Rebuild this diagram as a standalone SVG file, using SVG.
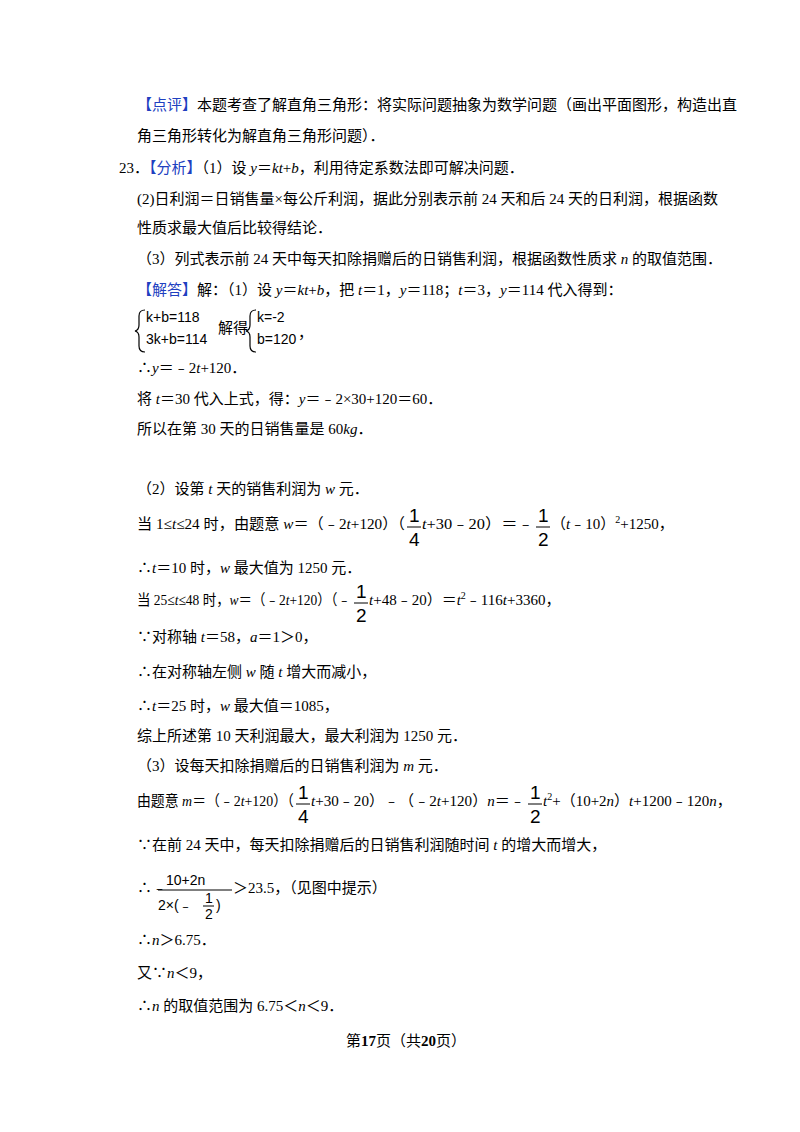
<svg xmlns="http://www.w3.org/2000/svg" width="800" height="1132" viewBox="0 0 800 1132">
<style>
text{font-family:"Liberation Serif","Noto Sans CJK SC",serif;font-size:15px;fill:#000}
.b{fill:#2040c0}
.i{font-style:italic}
.s{font-family:"Liberation Sans","Noto Sans CJK SC",sans-serif;font-size:14px}
.f{font-size:19px;font-family:"Liberation Sans",sans-serif}
line{stroke:#000;stroke-width:1}
</style>
<rect width="800" height="1132" fill="#fff"/>
<text x="137" y="110"><tspan class="b">【点评】</tspan>本题考查了解直角三角形：将实际问题抽象为数学问题（画出平面图形，构造出直</text>
<text x="137" y="141">角三角形转化为解直角三角形问题）．</text>
<text x="119" y="173">23．<tspan class="b">【分析】</tspan>（1）设 <tspan class="i">y</tspan>＝<tspan class="i">kt</tspan>+<tspan class="i">b</tspan>，利用待定系数法即可解决问题．</text>
<text x="137" y="204">(2)日利润＝日销售量×每公斤利润，据此分别表示前 24 天和后 24 天的日利润，根据函数</text>
<text x="137" y="233">性质求最大值后比较得结论．</text>
<text x="137" y="264">（3）列式表示前 24 天中每天扣除捐赠后的日销售利润，根据函数性质求 <tspan class="i">n</tspan> 的取值范围．</text>
<text x="137" y="295"><tspan class="b">【解答】</tspan>解：（1）设 <tspan class="i">y</tspan>＝<tspan class="i">kt</tspan>+<tspan class="i">b</tspan>，把 <tspan class="i">t</tspan>＝1，<tspan class="i">y</tspan>＝118；<tspan class="i">t</tspan>＝3，<tspan class="i">y</tspan>＝114 代入得到：</text>
<g id="sys">
<path d="M145,310 q-6,0 -6,6 v9 q0,5 -4,6 q4,1 4,6 v9 q0,6 6,6" fill="none" stroke="#000" stroke-width="1.2"/>
<text class="s" x="146" y="322">k+b=118</text>
<text class="s" x="146" y="344">3k+b=114</text>
<text x="218" y="333">解得</text>
<path d="M256,310 q-6,0 -6,6 v9 q0,5 -4,6 q4,1 4,6 v9 q0,6 6,6" fill="none" stroke="#000" stroke-width="1.2"/>
<text class="s" x="257" y="322">k=-2</text>
<text class="s" x="257" y="344">b=120</text>
<text x="298" y="338">，</text>
</g>
<text x="137" y="373">∴<tspan class="i">y</tspan>＝﹣2<tspan class="i">t</tspan>+120．</text>
<text x="137" y="404">将 <tspan class="i">t</tspan>＝30 代入上式，得：<tspan class="i">y</tspan>＝﹣2×30+120＝60．</text>
<text x="137" y="434">所以在第 30 天的日销售量是 60<tspan class="i">kg</tspan>．</text>
<text x="137" y="494">（2）设第 <tspan class="i">t</tspan> 天的销售利润为 <tspan class="i">w</tspan> 元．</text>
<text x="137" y="529" textLength="268" lengthAdjust="spacingAndGlyphs">当 1≤<tspan class="i">t</tspan>≤24 时，由题意 <tspan class="i">w</tspan>＝（﹣2<tspan class="i">t</tspan>+120）（</text>
<text class="f" x="409" y="522">1</text><line x1="407" y1="527" x2="421" y2="527"/><text class="f" x="409" y="546">4</text>
<text x="422" y="529" textLength="112" lengthAdjust="spacingAndGlyphs"><tspan class="i">t</tspan>+30﹣20）＝﹣</text>
<text class="f" x="538" y="522">1</text><line x1="536" y1="527" x2="550" y2="527"/><text class="f" x="538" y="546">2</text>
<text x="551" y="529">（<tspan class="i">t</tspan>﹣10）<tspan font-size="10" dy="-6">2</tspan><tspan dy="6">+1250，</tspan></text>
<text x="137" y="573">∴<tspan class="i">t</tspan>＝10 时，<tspan class="i">w</tspan> 最大值为 1250 元．</text>
<text x="137" y="605" textLength="214" lengthAdjust="spacingAndGlyphs">当 25≤<tspan class="i">t</tspan>≤48 时，<tspan class="i">w</tspan>＝（﹣2<tspan class="i">t</tspan>+120）（﹣</text>
<text class="f" x="356" y="598">1</text><line x1="354" y1="603" x2="368" y2="603"/><text class="f" x="356" y="622">2</text>
<text x="369" y="605"><tspan class="i">t</tspan>+48﹣20）＝<tspan class="i">t</tspan><tspan font-size="10" dy="-6">2</tspan><tspan dy="6">﹣116</tspan><tspan class="i">t</tspan>+3360，</text>
<text x="137" y="642">∵对称轴 <tspan class="i">t</tspan>＝58，<tspan class="i">a</tspan>＝1＞0，</text>
<text x="137" y="677">∴在对称轴左侧 <tspan class="i">w</tspan> 随 <tspan class="i">t</tspan> 增大而减小，</text>
<text x="137" y="711">∴<tspan class="i">t</tspan>＝25 时，<tspan class="i">w</tspan> 最大值＝1085，</text>
<text x="137" y="741">综上所述第 10 天利润最大，最大利润为 1250 元．</text>
<text x="137" y="771">（3）设每天扣除捐赠后的日销售利润为 <tspan class="i">m</tspan> 元．</text>
<text x="137" y="806" textLength="157" lengthAdjust="spacingAndGlyphs">由题意 <tspan class="i">m</tspan>＝（﹣2<tspan class="i">t</tspan>+120）（</text>
<text class="f" x="298" y="799">1</text><line x1="296" y1="804" x2="310" y2="804"/><text class="f" x="298" y="823">4</text>
<text x="311" y="806" textLength="214" lengthAdjust="spacingAndGlyphs"><tspan class="i">t</tspan>+30﹣20）﹣（﹣2<tspan class="i">t</tspan>+120）<tspan class="i">n</tspan>＝﹣</text>
<text class="f" x="530" y="799">1</text><line x1="528" y1="804" x2="542" y2="804"/><text class="f" x="530" y="823">2</text>
<text x="543" y="806"><tspan class="i">t</tspan><tspan font-size="10" dy="-6">2</tspan><tspan dy="6">+（10+2</tspan><tspan class="i">n</tspan>）<tspan class="i">t</tspan>+1200﹣120<tspan class="i">n</tspan>，</text>
<text x="137" y="850">∵在前 24 天中，每天扣除捐赠后的日销售利润随时间 <tspan class="i">t</tspan> 的增大而增大，</text>
<text x="137" y="893">∴﹣</text>
<text class="s" x="166" y="885" font-size="15">10+2n</text>
<line x1="158" y1="890" x2="232" y2="890"/>
<text class="s" x="158" y="910" font-size="15">2×(﹣</text>
<text class="s" x="205" y="903" font-size="13">1</text><line x1="203" y1="906" x2="214" y2="906"/><text class="s" x="205" y="919" font-size="13">2</text>
<text class="s" x="216" y="910" font-size="15">)</text>
<text x="233" y="893">＞23.5，（见图中提示）</text>
<text x="137" y="945">∴<tspan class="i">n</tspan>＞6.75．</text>
<text x="137" y="978">又∵<tspan class="i">n</tspan>＜9，</text>
<text x="137" y="1011">∴<tspan class="i">n</tspan> 的取值范围为 6.75＜<tspan class="i">n</tspan>＜9．</text>
<text x="346" y="1046" font-size="13">第<tspan font-weight="bold" font-size="15">17</tspan>页（共<tspan font-weight="bold" font-size="15">20</tspan>页）</text>
</svg>
